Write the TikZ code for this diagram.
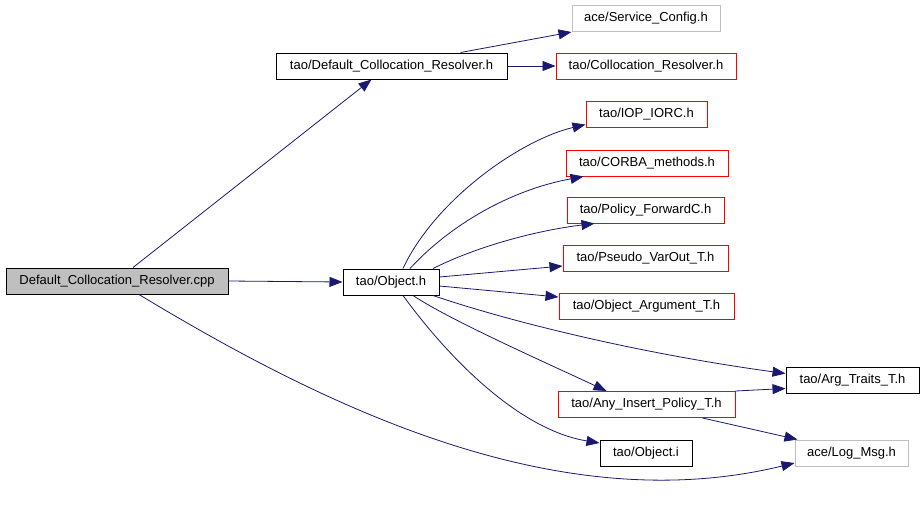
\documentclass[tikz,border=0pt]{standalone}
\usepackage{fontspec}
\setmainfont{Liberation Sans}
\usetikzlibrary{arrows.meta}
\definecolor{edgeblue}{HTML}{191970}
\definecolor{boxgray}{HTML}{BFBFBF}
\tikzset{
  file/.style={draw=black, line width=1pt, minimum height=26pt, inner sep=0pt, font=\fontsize{13}{15}\selectfont},
  redfile/.style={file, draw=red},
  extfile/.style={file, draw=boxgray},
  dep/.style={draw=edgeblue, line width=0.8pt, -{Triangle[length=13pt,width=10pt]}}
}
\begin{document}
\begin{tikzpicture}[x=1pt,y=-1pt]
  \useasboundingbox (0,0) rectangle (923,520);
  \node[file, fill=boxgray, minimum width=222pt] (cpp) at (117,281) {Default\_Collocation\_Resolver.cpp};
  \node[file, minimum width=231pt] (dcr) at (391.5,66) {tao/Default\_Collocation\_Resolver.h};
  \node[extfile, minimum width=148pt] (svc) at (646,18.5) {ace/Service\_Config.h};
  \node[redfile, minimum width=180pt] (coll) at (646,66) {tao/Collocation\_Resolver.h};
  \node[file, minimum width=96pt] (obj) at (391,282) {tao/Object.h};
  \node[redfile, minimum width=121pt] (iop) at (646.5,114.5) {tao/IOP\_IORC.h};
  \node[redfile, minimum width=162pt] (corba) at (647,163) {tao/CORBA\_methods.h};
  \node[redfile, minimum width=157pt] (pol) at (645.5,210) {tao/Policy\_ForwardC.h};
  \node[redfile, minimum width=165pt] (pseudo) at (645.5,258) {tao/Pseudo\_VarOut\_T.h};
  \node[redfile, minimum width=175pt] (objarg) at (646.5,306) {tao/Object\_Argument\_T.h};
  \node[file, minimum width=133pt] (args) at (852.5,380.5) {tao/Arg\_Traits\_T.h};
  \node[redfile, minimum width=177pt] (anyins) at (646.5,404.5) {tao/Any\_Insert\_Policy\_T.h};
  \node[file, minimum width=92pt] (obji) at (646,453) {tao/Object.i};
  \node[extfile, minimum width=113pt] (logmsg) at (851.5,453) {ace/Log\_Msg.h};

  \draw[dep] ([xshift=16pt]cpp.north) -- ([xshift=-20pt]dcr.south);
  \draw[dep] (cpp.east) -- (obj.west);
  \draw[dep] ([xshift=22pt]cpp.south) .. controls (330,410) and (560,520) .. ([yshift=-10pt]logmsg.west);
  \draw[dep] ([xshift=69pt]dcr.north) -- (svc.south west);
  \draw[dep] (dcr.east) -- (coll.west);
  \draw[dep] ([xshift=12pt]obj.north) .. controls (435,200) and (520,140) .. ([yshift=-10pt]iop.west);
  \draw[dep] ([xshift=19pt]obj.north) .. controls (450,225) and (510,190) .. ([xshift=18pt]corba.south west);
  \draw[dep] ([xshift=42pt]obj.north) .. controls (480,245) and (540,230) .. ([xshift=28pt]pol.south west);
  \draw[dep] ([yshift=5pt]obj.east) -- ([yshift=-8pt]pseudo.west);
  \draw[dep] ([yshift=-4pt]obj.east) -- ([yshift=9pt]objarg.west);
  \draw[dep] ([xshift=42pt]obj.south) .. controls (520,325) and (650,355) .. ([yshift=7pt]args.west);
  \draw[dep] ([xshift=22pt]obj.south) .. controls (450,320) and (540,360) .. ([xshift=49pt]anyins.north west);
  \draw[dep] ([xshift=12pt]obj.south) .. controls (450,360) and (520,430) .. ([yshift=10pt]obji.west);
  \draw[dep] (anyins.north east) -- ([yshift=-8pt]args.west);
  \draw[dep] ([xshift=56pt]anyins.south) -- ([xshift=3pt]logmsg.north west);
\end{tikzpicture}
\end{document}
